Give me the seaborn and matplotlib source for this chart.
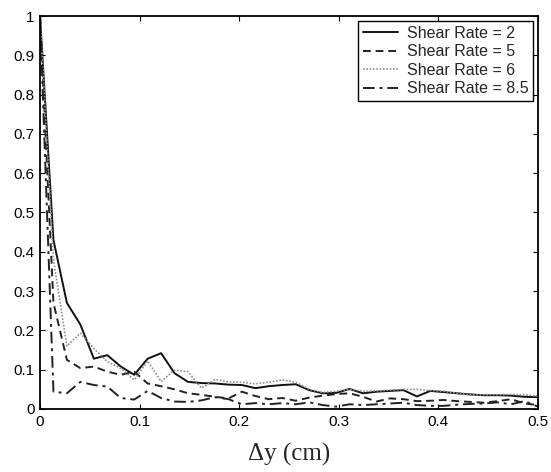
import numpy as np
import pandas as pd
import matplotlib
matplotlib.use("Agg")
import matplotlib.pyplot as plt
from matplotlib.ticker import FuncFormatter, MultipleLocator
from matplotlib.lines import Line2D
import seaborn as sns

# ---- data -------------------------------------------------------------
dy = [0.0000, 0.0135, 0.0270, 0.0405, 0.0541, 0.0676, 0.0811, 0.0946,
      0.1081, 0.1216, 0.1351, 0.1486, 0.1622, 0.1757, 0.1892, 0.2027,
      0.2162, 0.2297, 0.2432, 0.2568, 0.2703, 0.2838, 0.2973, 0.3108,
      0.3243, 0.3378, 0.3514, 0.3649, 0.3784, 0.3919, 0.4054, 0.4189,
      0.4324, 0.4459, 0.4595, 0.4730, 0.4865, 0.5000]

rate_2 = [1.0, 0.43, 0.27, 0.215, 0.128, 0.137, 0.108, 0.087,
          0.128, 0.142, 0.091, 0.069, 0.066, 0.065, 0.062, 0.061,
          0.053, 0.058, 0.061, 0.063, 0.048, 0.040, 0.041, 0.051,
          0.040, 0.044, 0.046, 0.048, 0.032, 0.046, 0.043, 0.040,
          0.037, 0.035, 0.035, 0.034, 0.031, 0.030]

rate_5 = [1.0, 0.27, 0.125, 0.104, 0.108, 0.095, 0.087, 0.095,
          0.065, 0.058, 0.050, 0.040, 0.036, 0.031, 0.027, 0.044,
          0.033, 0.025, 0.028, 0.021, 0.029, 0.034, 0.038, 0.040,
          0.031, 0.019, 0.027, 0.025, 0.020, 0.021, 0.023, 0.020,
          0.018, 0.016, 0.020, 0.025, 0.014, 0.010]

rate_6 = [1.0, 0.38, 0.16, 0.193, 0.154, 0.120, 0.104, 0.074,
          0.122, 0.070, 0.099, 0.095, 0.053, 0.075, 0.069, 0.068,
          0.064, 0.068, 0.074, 0.068, 0.050, 0.042, 0.045, 0.050,
          0.045, 0.046, 0.048, 0.050, 0.050, 0.047, 0.045, 0.040,
          0.036, 0.036, 0.036, 0.037, 0.036, 0.033]

rate_8_5 = [1.0, 0.044, 0.040, 0.069, 0.061, 0.057, 0.028, 0.024,
            0.046, 0.028, 0.019, 0.018, 0.022, 0.030, 0.025, 0.012,
            0.015, 0.012, 0.015, 0.012, 0.017, 0.010, 0.006, 0.012,
            0.010, 0.012, 0.014, 0.016, 0.010, 0.008, 0.008, 0.011,
            0.013, 0.014, 0.017, 0.012, 0.020, 0.006]

labels = ["Shear Rate = 2", "Shear Rate = 5", "Shear Rate = 6", "Shear Rate = 8.5"]
series = [rate_2, rate_5, rate_6, rate_8_5]

df = pd.concat(
    [pd.DataFrame({"dy": dy, "value": s, "label": lab}) for s, lab in zip(series, labels)],
    ignore_index=True,
)

# ---- style ------------------------------------------------------------
sns.set_style("ticks")
plt.rcParams["font.family"] = ["Liberation Sans", "DejaVu Sans"]

fig = plt.figure(figsize=(5.51, 4.72), dpi=100)
ax = fig.add_axes([40 / 551, 1 - 409 / 472, (538 - 40) / 551, (409 - 16) / 472])

palette = {labels[0]: "#111111", labels[1]: "#222222",
           labels[2]: "#8f8f8f", labels[3]: "#222222"}
dashes = {labels[0]: "", labels[1]: (4, 2.5), labels[2]: (1, 1), labels[3]: (6, 2.5, 1.5, 2.5)}
widths = {labels[0]: 1.4, labels[1]: 1.4, labels[2]: 1.2, labels[3]: 1.4}

sns.lineplot(data=df, x="dy", y="value", hue="label", style="label",
             palette=palette, dashes=dashes, hue_order=labels, style_order=labels,
             ax=ax, legend=False, sort=False)
for line, lab in zip(ax.get_lines(), labels):
    line.set_linewidth(widths[lab])

ax.set_xlim(0, 0.5)
ax.set_ylim(0, 1)
ax.xaxis.set_major_locator(MultipleLocator(0.1))
ax.yaxis.set_major_locator(MultipleLocator(0.1))
fmt = FuncFormatter(lambda v, p: "%g" % round(v, 3))
ax.xaxis.set_major_formatter(fmt)
ax.yaxis.set_major_formatter(fmt)
ax.tick_params(direction="in", length=3.5, width=0.8, top=True, right=True,
               labelsize=11, colors="black", pad=4)
for sp in ax.spines.values():
    sp.set_visible(True)
    sp.set_linewidth(1.3)
    sp.set_color("black")

ax.set_xlabel("Δy (cm)", family=["Liberation Serif", "DejaVu Serif"], fontsize=18, labelpad=10)
ax.set_ylabel("")

handles = []
for lab in labels:
    d = dashes[lab]
    h = Line2D([], [], color=palette[lab], lw=widths[lab])
    if d:
        h.set_dashes(d)
    handles.append(h)
leg = ax.legend(handles, labels, loc="upper right", fontsize=11.5, frameon=True,
                fancybox=False, edgecolor="black", framealpha=1,
                borderpad=0.3, labelspacing=0.22, handlelength=2.2,
                handletextpad=0.55, borderaxespad=0.3)
leg.get_frame().set_linewidth(1.0)

fig.savefig("out.png", dpi=100)
